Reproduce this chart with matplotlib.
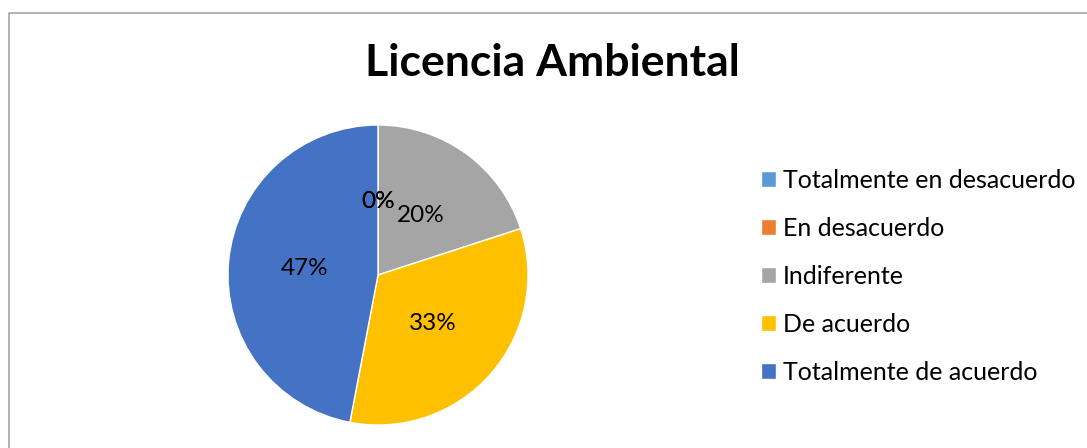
import matplotlib.pyplot as plt
from matplotlib.lines import Line2D

categorias = ['Totalmente en desacuerdo', 'En desacuerdo', 'Indiferente',
              'De acuerdo', 'Totalmente de acuerdo']
valores = [0, 0, 20, 33, 47]
colores = ['#5B9BD5', '#ED7D31', '#A5A5A5', '#FFC000', '#4472C4']

plt.rcParams['font.family'] = ['Lato', 'DejaVu Sans']

W, H = 1087, 448
fig = plt.figure(figsize=(W / 100, H / 100), dpi=100)

# marco gris del grafico (lado izquierdo y superior)
fig.add_artist(Line2D([9 / W, 9 / W, 1.0], [0.0, 1 - 13 / H, 1 - 13 / H],
                      transform=fig.transFigure, color='#a6a6a6', lw=1.2))

ax = fig.add_axes([228 / W, 23 / H, 300 / W, 300 / H])
wedges, texts, autotexts = ax.pie(valores, colors=colores, startangle=90,
                                  counterclock=False, autopct='%1.0f%%',
                                  pctdistance=0.49, radius=1,
                                  wedgeprops={'edgecolor': 'white', 'linewidth': 1},
                                  textprops={'fontsize': 17.5, 'color': 'black'})
ax.set_xlim(-1, 1)
ax.set_ylim(-1, 1)
ax.axis('off')

fig.text(552 / W, 1 - 76 / H, 'Licencia Ambiental', ha='center', va='baseline',
         fontsize=32, fontweight='bold')

fig.legend(wedges, categorias, loc='center left',
           bbox_to_anchor=(738 / W, 1 - 276 / H), frameon=False,
           fontsize=18, handlelength=0.6, handleheight=0.6, handletextpad=0.3,
           labelspacing=1.0)

fig.savefig('out.png', dpi=100)
